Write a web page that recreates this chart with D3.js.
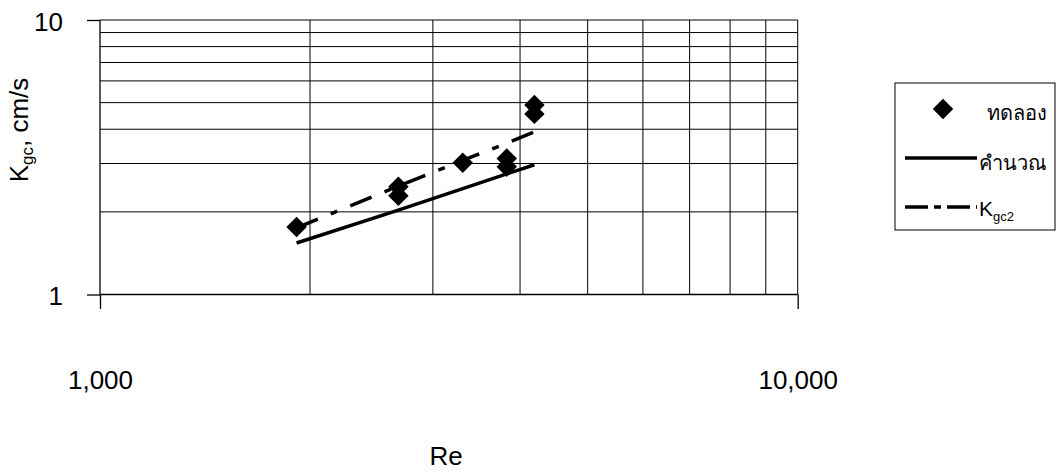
<!doctype html>
<html>
  <head>
    <meta charset="utf-8">
    <title>Kgc vs Re</title>
    <script src="https://cdnjs.cloudflare.com/ajax/libs/d3/7.8.5/d3.min.js"></script>
    <style>
      body { margin: 0; background: #fff; }
      text { font-family: "Liberation Sans", Arial, sans-serif; fill: #000; }
    </style>
  </head>
  <body>
    <div id="chart"></div>
    <script>
      // data
      const reExp = [1913, 2677, 2677, 3311, 3828, 3828, 4194, 4194];
      const kExp  = [1.76, 2.47, 2.29, 3.02, 3.13, 2.92, 4.90, 4.55];
      const reLine = [1913, 2677, 3311, 3828, 4194];
      const kCalc  = [1.54, 2.03, 2.43, 2.75, 2.97];
      const kGc2   = [1.75, 2.48, 3.08, 3.56, 3.91];
      const xTicks = [1000, 10000];
      const yTicks = [1, 10];
      const legendLabels = ['ทดลอง', 'คำนวณ', 'K'];

      const W = 1058, H = 472;
      const plotL = 100, plotR = 797.7, plotT = 20, plotB = 294.5;

      const x = d3.scaleLog().domain([1000, 10000]).range([plotL, plotR]);
      const y = d3.scaleLog().domain([1, 10]).range([plotB, plotT]);

      const svg = d3.select('#chart').append('svg')
        .attr('width', W)
        .attr('height', H);

      // grid (every minor step, like excel)
      const xGrid = d3.range(2, 11).map(d => d * 1000);
      const yGrid = d3.range(2, 11);

      svg.append('g').selectAll('line')
        .data(xGrid)
        .join('line')
        .attr('x1', d => x(d)).attr('x2', d => x(d))
        .attr('y1', plotT).attr('y2', plotB)
        .attr('stroke', '#000').attr('stroke-width', 1);

      svg.append('g').selectAll('line')
        .data(yGrid)
        .join('line')
        .attr('x1', plotL).attr('x2', plotR)
        .attr('y1', d => y(d)).attr('y2', d => y(d))
        .attr('stroke', '#000').attr('stroke-width', 1);

      // axes
      const fmt = d3.format(',');
      const yAxis = svg.append('g')
        .attr('transform', `translate(${plotL},0)`)
        .call(d3.axisLeft(y).tickValues(yTicks).tickSize(13).tickPadding(24).tickFormat(d => d));
      const xAxis = svg.append('g')
        .attr('transform', `translate(0,${plotB})`)
        .call(d3.axisBottom(x).tickValues(xTicks).tickSize(14.5).tickPadding(62).tickFormat(fmt));

      [yAxis, xAxis].forEach(g => {
        g.select('.domain').attr('stroke', '#000').attr('stroke-width', 1.3);
        g.selectAll('.tick line').attr('stroke', '#000').attr('stroke-width', 1.3);
        g.selectAll('.tick text')
          .style('font-family', '"Liberation Sans", Arial, sans-serif')
          .style('font-size', '26px')
          .attr('fill', '#000');
      });
      yAxis.selectAll('.tick text').attr('dy', '0.4em');
      xAxis.select('.domain').attr('d', `M${plotL},0H${plotR}`);
      yAxis.select('.domain').attr('d', `M0,${plotT}V${plotB}`);

      // axis titles
      svg.append('text')
        .attr('x', 446).attr('y', 465)
        .attr('text-anchor', 'middle')
        .style('font-size', '26px')
        .text('Re');

      const yTitle = svg.append('text')
        .attr('transform', 'translate(28,130) rotate(-90)')
        .attr('text-anchor', 'middle')
        .style('font-size', '26px');
      yTitle.append('tspan').text('K');
      yTitle.append('tspan').attr('dy', 5).style('font-size', '17px').text('gc');
      yTitle.append('tspan').attr('dy', -5).text(', cm/s');

      // lines
      const line = d3.line()
        .x((d, i) => x(reLine[i]))
        .y(d => y(d));

      svg.append('path')
        .attr('d', line(kCalc))
        .attr('fill', 'none')
        .attr('stroke', '#000')
        .attr('stroke-width', 3.5);

      svg.append('path')
        .attr('d', line(kGc2))
        .attr('fill', 'none')
        .attr('stroke', '#000')
        .attr('stroke-width', 3.5)
        .attr('stroke-dasharray', '23,14,7,14');

      // experimental points
      const diamond = d3.symbol().type(d3.symbolSquare).size(210);
      svg.append('g').selectAll('path')
        .data(kExp)
        .join('path')
        .attr('d', diamond)
        .attr('transform', (d, i) => `translate(${x(reExp[i])},${y(d)}) rotate(45)`)
        .attr('fill', '#000');

      // legend
      const lg = svg.append('g');
      lg.append('rect')
        .attr('x', 895).attr('y', 83)
        .attr('width', 160).attr('height', 147)
        .attr('fill', '#fff')
        .attr('stroke', '#000').attr('stroke-width', 1);

      lg.append('path')
        .attr('d', diamond)
        .attr('transform', 'translate(943,109) rotate(45)')
        .attr('fill', '#000');
      lg.append('text')
        .attr('x', 987).attr('y', 120)
        .style('font-size', '20px')
        .text(legendLabels[0]);

      lg.append('line')
        .attr('x1', 905).attr('x2', 977)
        .attr('y1', 158).attr('y2', 158)
        .attr('stroke', '#000').attr('stroke-width', 3.5);
      lg.append('text')
        .attr('x', 979).attr('y', 170)
        .style('font-size', '20px')
        .text(legendLabels[1]);

      lg.append('line')
        .attr('x1', 905).attr('x2', 977)
        .attr('y1', 207).attr('y2', 207)
        .attr('stroke', '#000').attr('stroke-width', 3.5)
        .attr('stroke-dasharray', '23,6,7,6');
      const kl = lg.append('text')
        .attr('x', 979).attr('y', 216)
        .style('font-size', '21px');
      kl.append('tspan').text(legendLabels[2]);
      kl.append('tspan').attr('dy', 5).style('font-size', '13px').text('gc2');
    </script>
  </body>
</html>
